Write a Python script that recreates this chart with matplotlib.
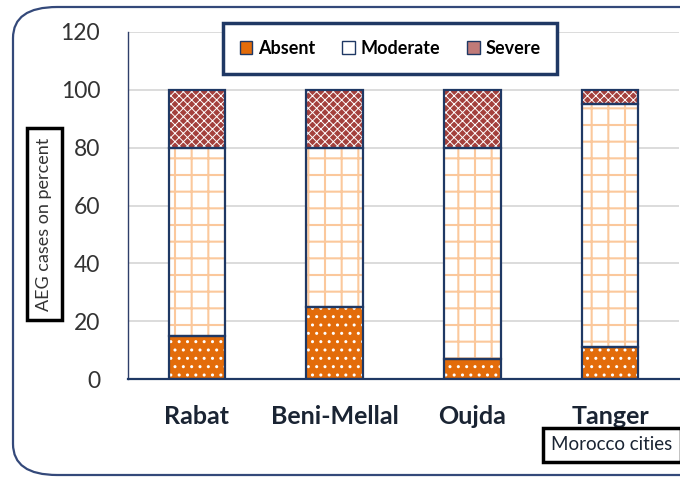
#!/usr/bin/env python3
"""Stacked AEG cases per Moroccan city (percent)."""

import matplotlib
matplotlib.use("Agg")
import matplotlib.pyplot as plt
import numpy as np
from matplotlib.patches import FancyBboxPatch, Patch

cities = ["Rabat", "Beni-Mellal", "Oujda", "Tanger"]
absent = [15, 25, 7, 11]
moderate = [65, 55, 73, 84]
severe = [20, 20, 20, 5]

NAVY = "#1f3864"
plt.rcParams["font.family"] = ["Lato", "DejaVu Sans"]

fig = plt.figure(figsize=(6.8, 4.79), dpi=100)
ax = fig.add_axes([128 / 680, 100 / 479, 551 / 680, 347 / 479])

x = np.arange(len(cities))
w = 0.41
bottom = np.zeros(len(cities))
styles = [
    (absent, "#e36c0a", "white", "..", 1.0),
    (moderate, "white", "#fbc89c", "+", 1.5),
    (severe, "#a3403c", "white", "xxxx", 0.7),
]
for vals, face, hcol, hatch, hlw in styles:
    plt.rcParams["hatch.linewidth"] = hlw
    ax.bar(x, vals, w, bottom=bottom, color=face, edgecolor=hcol,
           hatch=hatch, linewidth=0, zorder=2)
    ax.bar(x, vals, w, bottom=bottom, fill=False, edgecolor=NAVY,
           linewidth=1.6, zorder=3)
    bottom += np.array(vals)

ax.set_xlim(-0.5, 3.5)
ax.set_ylim(0, 120)
ax.set_yticks(range(0, 121, 20))
ax.set_xticks(x)
ax.set_xticklabels(cities, fontsize=18, fontweight="bold", color="#1a2433")
ax.tick_params(axis="y", length=0, pad=20, labelsize=16.5, labelcolor="#333333")
ax.tick_params(axis="x", length=0, pad=19)
ax.grid(axis="y", color="#d9d9d9", lw=1.3)
ax.set_axisbelow(True)
for s in ("top", "right"):
    ax.spines[s].set_visible(False)
ax.spines["left"].set_color("#2f3f6a")
ax.spines["left"].set_linewidth(1.0)
ax.spines["bottom"].set_color(NAVY)
ax.spines["bottom"].set_linewidth(1.6)

handles = [
    Patch(facecolor="#e36c0a", edgecolor=NAVY, label="Absent"),
    Patch(facecolor="white", edgecolor=NAVY, label="Moderate"),
    Patch(facecolor="#c07a78", edgecolor=NAVY, label="Severe"),
]
leg = fig.legend(handles=handles, loc="center", bbox_to_anchor=(390 / 680, 1 - 48.5 / 479),
                 ncol=3, fancybox=False, framealpha=1, edgecolor=NAVY,
                 prop={"size": 13, "weight": "bold"}, handlelength=0.7,
                 handleheight=0.7, handletextpad=0.3, columnspacing=1.5,
                 borderpad=0.95, borderaxespad=0)
leg.get_frame().set_linewidth(2.5)

fig.text(44.5 / 680, 1 - 224 / 479, "AEG cases on percent", rotation=90,
         ha="center", va="center", fontsize=13, color="#333333",
         bbox=dict(boxstyle="square,pad=0.5", fc="white", ec="black", lw=2.5))
fig.text(551 / 680, 1 - 445 / 479, "Morocco cities", ha="left", va="center",
         fontsize=13.5, color="#1a2433",
         bbox=dict(boxstyle="square,pad=0.45", fc="white", ec="black", lw=2.5))

frame = FancyBboxPatch((13 / 680, 4 / 479), 1.2, 468 / 479,
                       boxstyle="round,pad=0,rounding_size=0.065",
                       transform=fig.transFigure, fill=False,
                       ec="#34497a", lw=1.6, zorder=-1)
fig.patches.append(frame)

fig.savefig("out.png", dpi=100)
